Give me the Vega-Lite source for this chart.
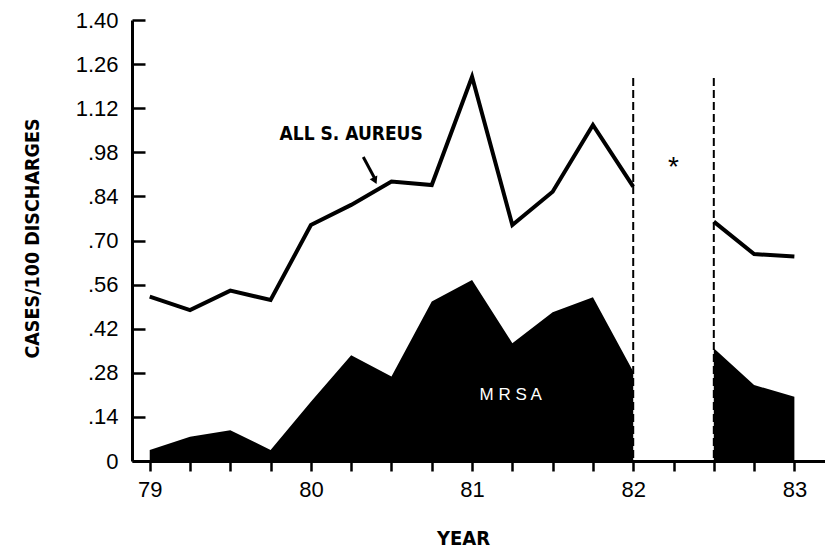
{
  "$schema": "https://vega.github.io/schema/vega-lite/v6.json",
  "width": 693,
  "height": 441,
  "autosize": "none",
  "padding": {"left": 132, "top": 20, "right": 0, "bottom": 91},
  "background": "white",
  "config": {"view": {"stroke": null}},
  "datasets": {
    "series": [
      {"year": 79.0, "all": 0.522, "mrsa": 0.035, "seg": "a"},
      {"year": 79.25, "all": 0.479, "mrsa": 0.077, "seg": "a"},
      {"year": 79.5, "all": 0.541, "mrsa": 0.098, "seg": "a"},
      {"year": 79.75, "all": 0.511, "mrsa": 0.035, "seg": "a"},
      {"year": 80.0, "all": 0.749, "mrsa": 0.188, "seg": "a"},
      {"year": 80.25, "all": 0.813, "mrsa": 0.336, "seg": "a"},
      {"year": 80.5, "all": 0.887, "mrsa": 0.268, "seg": "a"},
      {"year": 80.75, "all": 0.876, "mrsa": 0.506, "seg": "a"},
      {"year": 81.0, "all": 1.22, "mrsa": 0.575, "seg": "a"},
      {"year": 81.25, "all": 0.749, "mrsa": 0.374, "seg": "a"},
      {"year": 81.5, "all": 0.855, "mrsa": 0.472, "seg": "a"},
      {"year": 81.75, "all": 1.067, "mrsa": 0.52, "seg": "a"},
      {"year": 82.0, "all": 0.871, "mrsa": 0.284, "seg": "a"},
      {"year": 82.5, "all": 0.76, "mrsa": 0.358, "seg": "b"},
      {"year": 82.75, "all": 0.657, "mrsa": 0.241, "seg": "b"},
      {"year": 83.0, "all": 0.649, "mrsa": 0.204, "seg": "b"}
    ]
  },
  "encoding": {
    "x": {
      "type": "quantitative",
      "scale": {"domain": [78.89, 83.19], "nice": false, "zero": false},
      "axis": {
        "values": [79, 79.25, 79.5, 79.75, 80, 80.25, 80.5, 80.75, 81, 81.25, 81.5, 81.75, 82, 82.25, 82.5, 82.75, 83],
        "labelExpr": "datum.value % 1 === 0 ? format(datum.value, 'd') : ''",
        "grid": false,
        "domainColor": "black",
        "domainWidth": 3,
        "tickColor": "black",
        "tickWidth": 2.5,
        "tickSize": 10,
        "labelPadding": 8,
        "labelFont": "Liberation Sans",
        "labelFontSize": 22,
        "labelColor": "black",
        "title": "YEAR",
        "titleFont": "DejaVu Sans Condensed, DejaVu Sans, sans-serif",
        "titleFontWeight": "bold",
        "titleFontSize": 20,
        "titleColor": "black",
        "titleX": 331,
        "titleY": 77,
        "titleBaseline": "middle",
        "titleAlign": "center"
      }
    },
    "y": {
      "type": "quantitative",
      "scale": {"domain": [0, 1.4], "nice": false},
      "axis": {
        "values": [0, 0.14, 0.28, 0.42, 0.56, 0.7, 0.84, 0.98, 1.12, 1.26, 1.4],
        "labelExpr": "datum.value == 0 ? '0' : (datum.value < 1 ? replace(format(datum.value, '.2f'), '0.', '.') : format(datum.value, '.2f'))",
        "grid": false,
        "domainColor": "black",
        "domainWidth": 3,
        "tickColor": "black",
        "tickWidth": 2.5,
        "tickSize": -13,
        "labelPadding": 27,
        "labelFont": "Liberation Sans",
        "labelFontSize": 22,
        "labelColor": "black",
        "title": "CASES/100 DISCHARGES",
        "titleFont": "DejaVu Sans Condensed, DejaVu Sans, sans-serif",
        "titleFontWeight": "bold",
        "titleFontSize": 19.5,
        "titleColor": "black",
        "titleAngle": -90,
        "titleX": -100,
        "titleY": 218,
        "titleAlign": "center",
        "titleBaseline": "middle"
      }
    }
  },
  "layer": [
    {
      "data": {"name": "series"},
      "mark": {"type": "area", "color": "black", "opacity": 1},
      "encoding": {
        "x": {"field": "year"},
        "y": {"field": "mrsa", "stack": null},
        "detail": {"field": "seg", "type": "nominal"}
      }
    },
    {
      "data": {"name": "series"},
      "mark": {"type": "line", "color": "black", "strokeWidth": 4, "strokeJoin": "miter"},
      "encoding": {
        "x": {"field": "year"},
        "y": {"field": "all"},
        "detail": {"field": "seg", "type": "nominal"}
      }
    },
    {
      "data": {"values": [{"year": 82.0, "top": 1.216, "bottom": 0}, {"year": 82.5, "top": 1.216, "bottom": 0}]},
      "mark": {"type": "rule", "color": "black", "strokeWidth": 2, "strokeDash": [8, 4]},
      "encoding": {
        "x": {"field": "year"},
        "y": {"field": "top"},
        "y2": {"field": "bottom"}
      }
    },
    {
      "data": {"values": [{"x1": 80.325, "y1": 0.965, "x2": 80.398, "y2": 0.895}]},
      "mark": {"type": "rule", "color": "black", "strokeWidth": 3},
      "encoding": {
        "x": {"field": "x1"},
        "y": {"field": "y1"},
        "x2": {"field": "x2"},
        "y2": {"field": "y2"}
      }
    },
    {
      "data": {"values": [{"x": 80.398, "y": 0.89}]},
      "mark": {"type": "point", "shape": "triangle-down", "filled": true, "color": "black", "size": 70, "angle": 335, "opacity": 1},
      "encoding": {
        "x": {"field": "x"},
        "y": {"field": "y"}
      }
    },
    {
      "data": {"values": [{"x": 80.25, "y": 1.037, "label": "ALL S. AUREUS"}]},
      "mark": {"type": "text", "font": "DejaVu Sans Condensed, DejaVu Sans, sans-serif", "fontWeight": "bold", "fontSize": 19, "color": "black", "align": "center", "baseline": "middle"},
      "encoding": {
        "x": {"field": "x"},
        "y": {"field": "y"},
        "text": {"field": "label"}
      }
    },
    {
      "data": {"values": [{"x": 82.25, "y": 0.93, "label": "*"}]},
      "mark": {"type": "text", "font": "Liberation Sans", "fontSize": 28, "color": "black", "align": "center", "baseline": "middle"},
      "encoding": {
        "x": {"field": "x"},
        "y": {"field": "y"},
        "text": {"field": "label"}
      }
    },
    {
      "data": {"values": [{"x": 81.24, "y": 0.21, "label": "M R S A"}]},
      "mark": {"type": "text", "font": "Liberation Sans", "fontSize": 17, "color": "white", "align": "center", "baseline": "middle"},
      "encoding": {
        "x": {"field": "x"},
        "y": {"field": "y"},
        "text": {"field": "label"}
      }
    }
  ]
}
